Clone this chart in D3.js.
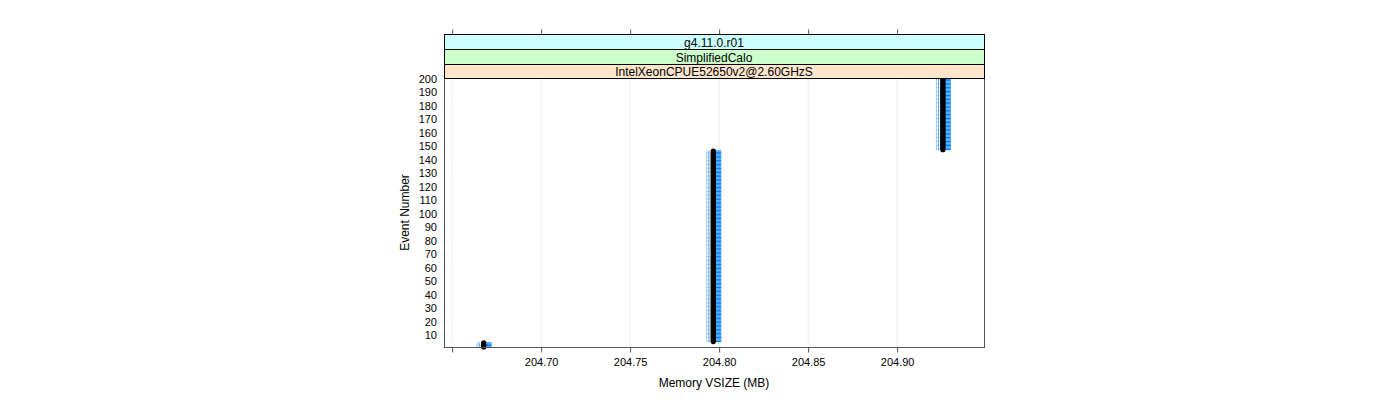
<!DOCTYPE html>
<html><head><meta charset="utf-8">
<script src="https://cdn.jsdelivr.net/npm/d3@7"></script>
<style>body{margin:0;background:#fff}svg{display:block}text{font-family:"Liberation Sans",Arial,sans-serif;}</style>
</head><body>
<script>
// Data
const memValues = [204.668, 204.797, 204.926];
const eventStart = [1, 5, 147];
const eventEnd = [4, 146, 200];
const xTicks = [204.65, 204.70, 204.75, 204.80, 204.85, 204.90];
const xTickLabels = ["", "204.70", "204.75", "204.80", "204.85", "204.90"];
const yTicks = d3.range(10, 201, 10);
const strips = ["g4.11.0.r01", "SimplifiedCalo", "IntelXeonCPUE52650v2@2.60GHzS"];
const stripColors = ["#ccffff", "#ccffcc", "#ffe5cc"];

(function () {
const events = [];
memValues.forEach((m, i) => { for (let e = eventStart[i]; e <= eventEnd[i]; e++) events.push({event: e, mem: m}); });

const W = 1400, H = 400;
const L = 444, R = 984, T = 78, B = 347;
const svg = d3.select("body").append("svg").attr("width", W).attr("height", H);

const x = d3.scaleLinear().domain([204.6457, 204.9491]).range([L, R]);
const y = d3.scaleLinear().domain([1, 200]).range([B, T]);

// grid
svg.append("g").selectAll("line").data(xTicks).join("line")
  .attr("x1", d => x(d) + 0.5).attr("x2", d => x(d) + 0.5)
  .attr("y1", T).attr("y2", B).attr("stroke", "#ebebeb").attr("stroke-width", 1);

// marks
const g = svg.append("g");
g.selectAll("rect.lb").data(events).join("rect").attr("class", "lb")
  .attr("x", d => x(d.mem) - 7).attr("y", d => y(d.event) - 0.5)
  .attr("width", 1).attr("height", 1).attr("fill", "#66b3ff");
g.selectAll("rect.lb2").data(events).join("rect").attr("class", "lb2")
  .attr("x", d => x(d.mem) - 5).attr("y", d => y(d.event) - 0.5)
  .attr("width", 1.2).attr("height", 1).attr("fill", "#1a8cff");
g.selectAll("rect.bl").data(events).join("rect").attr("class", "bl")
  .attr("x", d => x(d.mem) + 2).attr("y", d => y(d.event) - 0.6)
  .attr("width", 6).attr("height", 1.1).attr("fill", "#0080ff");
g.selectAll("circle").data(events).join("circle")
  .attr("cx", d => x(d.mem)).attr("cy", d => y(d.event))
  .attr("r", 2.6).attr("fill", "#000");

// panel border
svg.append("rect").attr("x", L + 0.5).attr("y", T + 0.5).attr("width", R - L).attr("height", B - T)
  .attr("fill", "none").attr("stroke", "#555");

// strips
const sh = [34, 49, 64, 78];
strips.forEach((s, i) => {
  svg.append("rect").attr("x", L + 0.5).attr("y", sh[i] + 0.5).attr("width", R - L).attr("height", sh[i + 1] - sh[i])
    .attr("fill", stripColors[i]).attr("stroke", "#000");
  svg.append("text").attr("x", (L + R) / 2).attr("y", (sh[i] + sh[i + 1]) / 2 + 5)
    .attr("text-anchor", "middle").attr("font-size", 12).attr("fill", "#000").text(s);
});

// bottom axis
const bottomAx = svg.append("g").attr("transform", `translate(0.5,${B + 0.5})`)
  .call(d3.axisBottom(x).tickValues(xTicks).tickFormat((d, i) => xTickLabels[i]).tickSize(5).tickSizeOuter(0));
bottomAx.select(".domain").remove();
bottomAx.selectAll("line").attr("stroke", "#555");
bottomAx.selectAll("text").attr("font-size", 11).attr("fill", "#000").attr("dy", "0.95em").attr("font-family", "Liberation Sans, Arial, sans-serif");

// top axis
const topAx = svg.append("g").attr("transform", `translate(0.5,${34.5})`)
  .call(d3.axisTop(x).tickValues(xTicks).tickFormat("").tickSize(5).tickSizeOuter(0));
topAx.select(".domain").remove();
topAx.selectAll("line").attr("stroke", "#555");

// left axis labels (no tick marks)
const leftAx = svg.append("g").attr("transform", `translate(${L},0.5)`)
  .call(d3.axisLeft(y).tickValues(yTicks).tickSize(0).tickPadding(7));
leftAx.select(".domain").remove();
leftAx.selectAll("text").attr("font-size", 11).attr("fill", "#000").attr("font-family", "Liberation Sans, Arial, sans-serif");

// axis titles
svg.append("text").attr("x", (L + R) / 2).attr("y", 387).attr("text-anchor", "middle")
  .attr("font-size", 12).text("Memory VSIZE (MB)");
svg.append("text").attr("transform", `translate(409,${(T + B) / 2}) rotate(-90)`).attr("text-anchor", "middle")
  .attr("font-size", 12).text("Event Number");
})();
</script>
</body></html>
